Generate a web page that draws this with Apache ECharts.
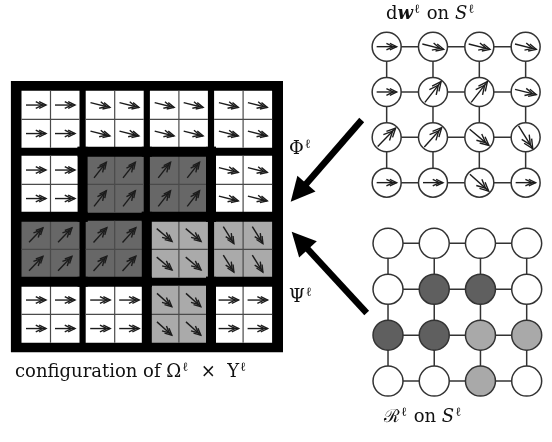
<!DOCTYPE html>
<html>
<head>
<meta charset="utf-8">
<script src="https://cdn.jsdelivr.net/npm/echarts@6/dist/echarts.min.js"></script>
<style>
  html, body { margin: 0; padding: 0; background: #ffffff; }
  #chart { width: 552px; height: 442px; }
</style>
</head>
<body>
<div id="chart"></div>
<script>
// Region label of every site of the 4x4 lattice S (0 = white, 1 = dark, 2 = light)
const regions = [
  [0, 0, 0, 0],
  [0, 1, 1, 0],
  [1, 1, 2, 2],
  [0, 0, 2, 0]
];
// Direction of dw at every site, degrees counter-clockwise from +x
const angles = [
  [0, -14, -14, -14],
  [0, 52, 52, -14],
  [46, 48, -40, -58],
  [0, 0, -42, 0]
];

const SERIF = '"DejaVu Serif", serif';
const blockFill = ['#ffffff', '#676767', '#aaaaaa'];
const nodeFill = ['#ffffff', '#5f5f5f', '#a9a9a9'];
const INK = '#1c1c1c';

// ---- derived tables -------------------------------------------------------
const blockData = [];
const nodeData = [];
regions.forEach((row, r) => row.forEach((g, c) => {
  blockData.push([c, r, g, angles[r][c]]);
  nodeData.push([c, r, g, angles[r][c]]);
}));

// lattice edges between 4-neighbours
const edgeData = [];
for (let r = 0; r < 4; r++) {
  for (let c = 0; c < 4; c++) {
    if (c < 3) edgeData.push([c, r, c + 1, r]);
    if (r < 3) edgeData.push([c, r, c, r + 1]);
  }
}

// thick walls between neighbouring blocks of different regions
// [orientation (0 = vertical wall, 1 = horizontal wall), x, y]
const wallData = [];
for (let r = 0; r < 4; r++) {
  for (let c = 0; c < 4; c++) {
    if (c < 3 && regions[r][c] !== regions[r][c + 1]) wallData.push([0, c + 1, r]);
    if (r < 3 && regions[r][c] !== regions[r + 1][c]) wallData.push([1, c, r + 1]);
  }
}

// ---- drawing helpers ------------------------------------------------------
function arrowShapes(cx, cy, len, deg, color, lw) {
  const a = deg * Math.PI / 180;
  const ux = Math.cos(a), uy = -Math.sin(a);
  const tx = cx - ux * len / 2, ty = cy - uy * len / 2;
  const hx = cx + ux * len / 2, hy = cy + uy * len / 2;
  const out = [{
    type: 'line',
    shape: { x1: tx, y1: ty, x2: hx, y2: hy },
    style: { stroke: color, lineWidth: lw }
  }];
  const back = Math.atan2(-uy, -ux);
  const hl = len * 0.38, sp = 0.45;
  [0, len * 0.17].forEach(off => {
    const px = hx - ux * off, py = hy - uy * off;
    const p1 = [px + Math.cos(back + sp) * hl, py + Math.sin(back + sp) * hl];
    const p2 = [px + Math.cos(back - sp) * hl, py + Math.sin(back - sp) * hl];
    out.push({
      type: 'polyline',
      shape: { points: [p1, [px, py], p2] },
      style: { stroke: color, fill: null, lineWidth: lw }
    });
  });
  return out;
}

const GAP_X = 3.1, GAP_Y = 4.0;     // half gap between blocks, px
const WALL = 10;                    // thickness of region walls, px

function renderFrame(params, api) {
  const a = api.coord([0, 0]);
  const b = api.coord([4, 4]);
  return {
    type: 'rect',
    shape: { x: a[0] - 7.5, y: a[1] - 5.8, width: b[0] - a[0] + 15.3, height: b[1] - a[1] + 11.2 },
    style: { fill: '#000000' }
  };
}

function renderBlock(params, api) {
  const c = api.value(0), r = api.value(1), g = api.value(2), ang = api.value(3);
  const a = api.coord([c, r]);
  const b = api.coord([c + 1, r + 1]);
  const x0 = a[0] + GAP_X, y0 = a[1] + GAP_Y, x1 = b[0] - GAP_X, y1 = b[1] - GAP_Y;
  const w = x1 - x0, h = y1 - y0;
  const children = [
    { type: 'rect', shape: { x: x0, y: y0, width: w, height: h }, style: { fill: blockFill[g] } },
    { type: 'line', shape: { x1: x0 + w / 2, y1: y0, x2: x0 + w / 2, y2: y1 }, style: { stroke: '#4a4a4a', lineWidth: 1.2 } },
    { type: 'line', shape: { x1: x0, y1: y0 + h / 2, x2: x1, y2: y0 + h / 2 }, style: { stroke: '#4a4a4a', lineWidth: 1.2 } }
  ];
  for (let i = 0; i < 2; i++) {
    for (let j = 0; j < 2; j++) {
      const cx = x0 + w * (0.25 + 0.5 * i);
      const cy = y0 + h * (0.25 + 0.5 * j);
      arrowShapes(cx, cy, 20, ang, INK, 1.4).forEach(s => children.push(s));
    }
  }
  return { type: 'group', children };
}

function renderWall(params, api) {
  const o = api.value(0), x = api.value(1), y = api.value(2);
  if (o === 0) {
    const a = api.coord([x, y]);
    const b = api.coord([x, y + 1]);
    return { type: 'rect', shape: { x: a[0] - WALL / 2, y: a[1] - WALL / 2, width: WALL, height: b[1] - a[1] + WALL }, style: { fill: '#000000' } };
  }
  const a = api.coord([x, y]);
  const b = api.coord([x + 1, y]);
  return { type: 'rect', shape: { x: a[0] - WALL / 2, y: a[1] - WALL / 2, width: b[0] - a[0] + WALL, height: WALL }, style: { fill: '#000000' } };
}

function renderEdge(params, api) {
  const a = api.coord([api.value(0), api.value(1)]);
  const b = api.coord([api.value(2), api.value(3)]);
  return { type: 'line', shape: { x1: a[0], y1: a[1], x2: b[0], y2: b[1] }, style: { stroke: '#333333', lineWidth: 1.5 } };
}

function renderNodeArrow(params, api) {
  const p = api.coord([api.value(0), api.value(1)]);
  const ang = api.value(3);
  const len = 20 + 8 * Math.abs(Math.sin(ang * Math.PI / 180));
  return { type: 'group', children: arrowShapes(p[0], p[1], len, ang, INK, 1.4) };
}

// ---- axes -----------------------------------------------------------------
function xAx(idx, min, max) {
  return { gridIndex: idx, type: 'value', min, max, show: false };
}
function yAx(idx, min, max) {
  return { gridIndex: idx, type: 'value', min, max, inverse: true, show: false };
}

// big black arrows (maps Φ and Ψ)
function bigArrow(tail, tip) {
  const dx = tip[0] - tail[0], dy = tip[1] - tail[1];
  const L = Math.hypot(dx, dy), ux = dx / L, uy = dy / L;
  const hl = 24, hw = 12;
  const bx = tip[0] - ux * hl, by = tip[1] - uy * hl;
  return [
    { type: 'line', shape: { x1: tail[0], y1: tail[1], x2: bx + ux * 2, y2: by + uy * 2 }, style: { stroke: '#000', lineWidth: 6.5 } },
    { type: 'polygon', shape: { points: [[tip[0], tip[1]], [bx - uy * hw, by + ux * hw], [bx + uy * hw, by - ux * hw]] }, style: { fill: '#000' } }
  ];
}

const rich = {
  rm: { fontFamily: SERIF, fontSize: 18, lineHeight: 22, fill: '#111' },
  it: { fontFamily: SERIF, fontSize: 18, lineHeight: 22, fontStyle: 'italic', fill: '#111' },
  bi: { fontFamily: SERIF, fontSize: 18, lineHeight: 22, fontStyle: 'italic', fontWeight: 'bold', fill: '#111' },
  cal: { fontFamily: SERIF, fontSize: 18, lineHeight: 22, fill: '#111' },
  sup: { fontFamily: SERIF, fontSize: 12.5, fill: '#111', verticalAlign: 'top', lineHeight: 13, padding: [0, 1, 0, 1] }
};

const option = {
  backgroundColor: '#ffffff',
  animation: false,
  grid: [
    { left: 18.4, top: 86.8, width: 256.8, height: 260 },
    { left: 363.5, top: 24, width: 185.3, height: 181.3 },
    { left: 364.9, top: 220.4, width: 184.9, height: 183.6 }
  ],
  xAxis: [xAx(0, 0, 4), xAx(1, -0.5, 3.5), xAx(2, -0.5, 3.5)],
  yAxis: [yAx(0, 0, 4), yAx(1, -0.5, 3.5), yAx(2, -0.5, 3.5)],
  series: [
    { type: 'custom', name: 'frame', xAxisIndex: 0, yAxisIndex: 0, data: [[0, 0]], renderItem: renderFrame, z: 1, silent: true },
    { type: 'custom', name: 'blocks', xAxisIndex: 0, yAxisIndex: 0, data: blockData, renderItem: renderBlock, z: 2, silent: true },
    { type: 'custom', name: 'walls', xAxisIndex: 0, yAxisIndex: 0, data: wallData, renderItem: renderWall, z: 3, silent: true },

    { type: 'custom', name: 'dw edges', xAxisIndex: 1, yAxisIndex: 1, data: edgeData, renderItem: renderEdge, z: 1, silent: true },
    { type: 'scatter', name: 'dw nodes', xAxisIndex: 1, yAxisIndex: 1, data: nodeData, symbol: 'circle', symbolSize: 29,
      itemStyle: { color: '#ffffff', borderColor: '#333333', borderWidth: 1.5, opacity: 1 }, z: 2, silent: true },
    { type: 'custom', name: 'dw arrows', xAxisIndex: 1, yAxisIndex: 1, data: nodeData, renderItem: renderNodeArrow, z: 3, silent: true },

    { type: 'custom', name: 'R edges', xAxisIndex: 2, yAxisIndex: 2, data: edgeData, renderItem: renderEdge, z: 1, silent: true },
    { type: 'scatter', name: 'R nodes', xAxisIndex: 2, yAxisIndex: 2, data: nodeData, symbol: 'circle', symbolSize: 30,
      itemStyle: { color: p => nodeFill[p.value[2]], borderColor: '#333333', borderWidth: 1.5, opacity: 1 }, z: 2, silent: true }
  ],
  graphic: [
    { type: 'group', children: bigArrow([361.7, 120], [290.7, 201.7]) },
    { type: 'group', children: bigArrow([366.7, 313], [291.7, 231.7]) },
    { type: 'text', left: 386, top: 3, style: { text: '{rm|d}{bi|w}{sup|ℓ}{rm| on }{it|S}{sup|ℓ}', rich } },
    { type: 'text', left: 384, top: 406, style: { text: '{cal|ℛ}{sup|ℓ}{rm| on }{it|S}{sup|ℓ}', rich } },
    { type: 'text', left: 289, top: 138, style: { text: '{rm|Φ}{sup|ℓ}', rich } },
    { type: 'text', left: 289, top: 286, style: { text: '{rm|Ψ}{sup|ℓ}', rich } },
    { type: 'text', left: 15, top: 361, style: { text: '{rm|configuration of Ω}{sup|ℓ}{rm|  ×  Υ}{sup|ℓ}', rich } }
  ]
};

const chart = echarts.init(document.getElementById('chart'));
chart.setOption(option);
</script>
</body>
</html>
